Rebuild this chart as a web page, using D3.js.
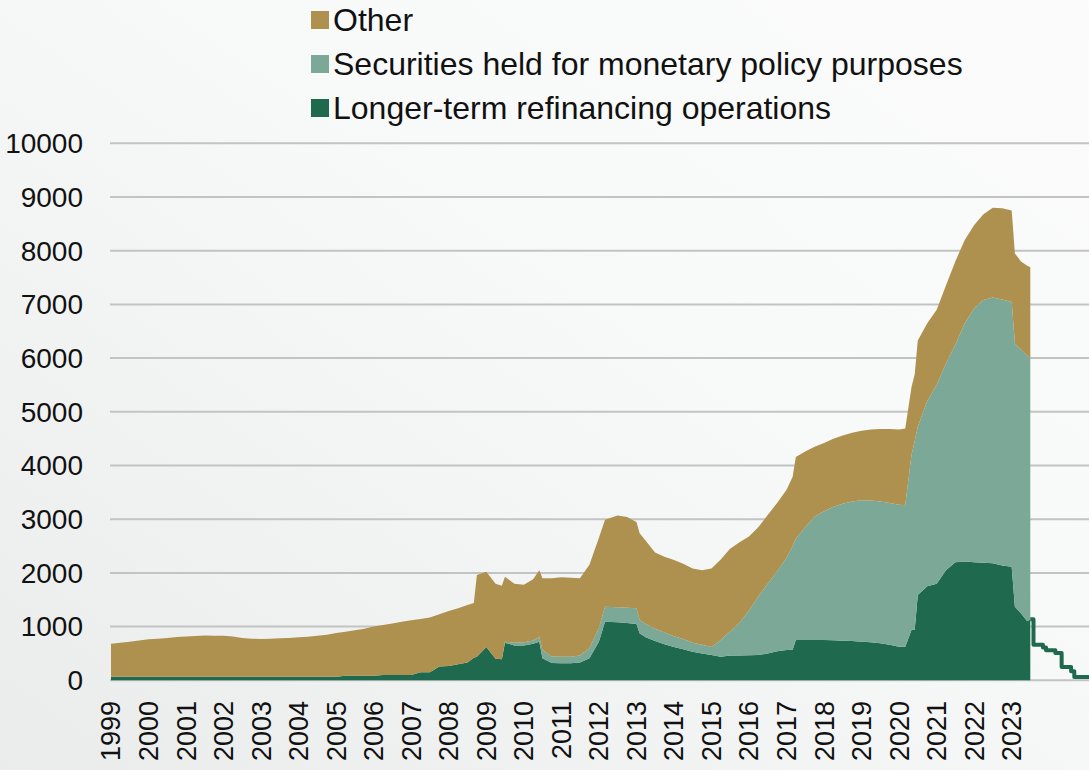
<!DOCTYPE html>
<html>
<head>
<meta charset="utf-8">
<script src="https://cdn.jsdelivr.net/npm/d3@7"></script>
<style>
  html, body { margin: 0; padding: 0; }
  body { width: 1089px; height: 770px; overflow: hidden; }
  text { font-family: "Liberation Sans", Arial, sans-serif; fill: #111; }
</style>
</head>
<body>
<div id="chart"></div>
<script>
// Eurosystem balance sheet, assets (EUR bn)
const dates = [
  "1999-01","1999-04","1999-07","1999-10","2000-01","2000-04","2000-07","2000-10",
  "2001-01","2001-04","2001-07","2001-10","2002-01","2002-04","2002-07","2002-10",
  "2003-01","2003-04","2003-07","2003-10","2004-01","2004-04","2004-07","2004-10",
  "2005-01","2005-04","2005-07","2005-10","2006-01","2006-04","2006-07","2006-10",
  "2007-01","2007-04","2007-07","2007-10","2008-01","2008-04","2008-07","2008-09",
  "2008-10","2009-01","2009-04","2009-06","2009-07","2009-10","2010-01","2010-04",
  "2010-06","2010-07","2010-10","2011-01","2011-04","2011-07","2011-10","2012-01",
  "2012-03","2012-07","2012-10","2013-01","2013-02","2013-04","2013-07","2013-10",
  "2014-01","2014-04","2014-07","2014-10","2015-01","2015-04","2015-07","2015-10",
  "2016-01","2016-04","2016-07","2016-10","2017-01","2017-03","2017-04","2017-07",
  "2017-10","2018-01","2018-04","2018-07","2018-10","2019-01","2019-04","2019-07",
  "2019-10","2020-01","2020-03","2020-05","2020-06","2020-07","2020-10","2021-01",
  "2021-04","2021-07","2021-10","2022-01","2022-04","2022-07","2022-10","2023-01",
  "2023-02","2023-04","2023-06","2023-07"
];

const ltro = [
  65,65,65,65,65,65,65,65, 65,65,65,65,65,65,65,65,
  65,65,65,65,65,65,65,65, 65,85,85,85,85,100,100,100,
  100,150,150,255,265,300,330,420, 440,620,400,390,700,650,650,680,
  718,409,320,316,316,330,409,718, 1091,1080,1065,1050,874,800,730,670,
  620,580,530,500,470,440,460,460, 465,471,500,540,564,570,750,750,
  750,750,745,738,730,720,710,690, 660,625,625,936,940,1590,1750,1800,
  2050,2200,2210,2200,2190,2180,2140,2114, 1370,1250,1100,1135
];

const securities = [
  0,0,0,0,0,0,0,0, 0,0,0,0,0,0,0,0,
  0,0,0,0,0,0,0,0, 0,0,0,0,0,0,0,0,
  0,0,0,0,0,0,0,0, 0,0,0,0,20,50,60,60,
  90,155,125,123,123,130,190,250, 280,280,285,290,250,250,230,220,
  200,190,170,160,150,310,450,610, 835,1090,1300,1490,1716,1930,1890,2100,
  2300,2400,2485,2552,2600,2635,2640,2640, 2640,2645,2637,3264,3510,3130,3450,3700,
  3850,4050,4440,4730,4890,4950,4950,4932, 4900,4910,4950,4855
];

const other = [
  615,635,655,675,700,710,725,740, 750,760,770,765,765,750,725,710,
  705,710,720,725,735,745,765,785, 815,820,845,875,915,930,960,990,
  1020,990,1020,975,1025,1040,1070,1020, 1520,1400,1400,1370,1210,1100,1070,1140,
  1242,1336,1455,1481,1471,1440,1551,1682, 1619,1710,1690,1610,1616,1550,1420,1410,
  1420,1400,1380,1390,1460,1500,1540,1500, 1380,1289,1280,1270,1270,1290,1520,1410,
  1300,1270,1270,1270,1280,1290,1320,1350, 1380,1400,1428,1260,1250,1610,1450,1400,
  1450,1550,1550,1550,1600,1670,1700,1704, 1680,1640,1670,1700
];

// projected LTRO run-off after the last balance sheet date
const tailDates = ["2023-07","2023-08","2023-11","2023-12","2024-03","2024-05","2024-08","2024-09","2025-02"];
const tailLtro = [1135, 660, 610, 560, 510, 250, 170, 60, 40];

const yTicks = [0, 1000, 2000, 3000, 4000, 5000, 6000, 7000, 8000, 9000, 10000];
const yearLabels = d3.range(1999, 2024).map(String);

const seriesNames = ["Other", "Securities held for monetary policy purposes", "Longer-term refinancing operations"];
const colors = { ltro: "#1f6a4f", securities: "#7ba897", other: "#ae914f" };

const parseMonth = d3.timeParse("%Y-%m");

const chartWidth = 1089;
const chartHeight = 770;

const $svg = d3.select("#chart")
  .append("svg")
  .attr("width", chartWidth)
  .attr("height", chartHeight);

// soft grey background
const grad = $svg.append("defs").append("linearGradient")
  .attr("id", "bg")
  .attr("x1", 0).attr("y1", 1).attr("x2", 1).attr("y2", 0);
grad.append("stop").attr("offset", "0%").attr("stop-color", "#eaecec");
grad.append("stop").attr("offset", "60%").attr("stop-color", "#f8f9f9");
grad.append("stop").attr("offset", "100%").attr("stop-color", "#fbfbfb");
$svg.append("rect")
  .attr("width", chartWidth)
  .attr("height", chartHeight)
  .attr("fill", "url(#bg)");

const xScale = d3.scaleTime()
  .domain([parseMonth("1999-01"), parseMonth("2025-02")])
  .range([111, 1090]);

const yScale = d3.scaleLinear()
  .domain([0, 10000])
  .range([680.3, 143.3]);

// gridlines
$svg.append("g")
  .selectAll("line")
  .data(yTicks)
  .join("line")
  .attr("x1", 110)
  .attr("x2", chartWidth)
  .attr("y1", d => yScale(d))
  .attr("y2", d => yScale(d))
  .attr("stroke", "#c3c3c3")
  .attr("stroke-width", 2);

// y axis labels
$svg.append("g")
  .selectAll("text")
  .data(yTicks)
  .join("text")
  .attr("x", 83)
  .attr("y", d => yScale(d))
  .attr("dy", "0.35em")
  .attr("text-anchor", "end")
  .style("font-size", "28px")
  .text(d => d);

// stacked areas
const table = dates.map((d, i) => ({
  date: parseMonth(d),
  ltro: ltro[i],
  securities: securities[i],
  other: other[i]
}));

const stack = d3.stack().keys(["ltro", "securities", "other"]);
const layers = stack(table);

const area = d3.area()
  .x(d => xScale(d.data.date))
  .y0(d => yScale(d[0]))
  .y1(d => yScale(d[1]));

$svg.append("g")
  .selectAll("path")
  .data(layers)
  .join("path")
  .attr("fill", d => colors[d.key])
  .attr("d", area);

// LTRO run-off line
const tail = tailDates.map((d, i) => ({ date: parseMonth(d), value: tailLtro[i] }));
$svg.append("path")
  .datum(tail)
  .attr("fill", "none")
  .attr("stroke", colors.ltro)
  .attr("stroke-width", 4)
  .attr("stroke-linejoin", "round")
  .attr("d", d3.line()
    .x(d => xScale(d.date))
    .y(d => yScale(d.value))
    .curve(d3.curveStepAfter));

// x axis labels, rotated
$svg.append("g")
  .selectAll("text")
  .data(yearLabels)
  .join("text")
  .attr("transform", d => `translate(${xScale(parseMonth(d + "-01"))},701) rotate(-90)`)
  .attr("dy", "0.35em")
  .attr("text-anchor", "end")
  .style("font-size", "27px")
  .text(d => d);

// legend
const legendKeys = ["other", "securities", "ltro"];
const $legend = $svg.append("g")
  .selectAll("g")
  .data(seriesNames)
  .join("g")
  .attr("transform", (d, i) => `translate(311,${20 + i * 44})`);

$legend.append("rect")
  .attr("x", 0)
  .attr("y", -9)
  .attr("width", 18)
  .attr("height", 18)
  .attr("fill", (d, i) => colors[legendKeys[i]]);

$legend.append("text")
  .attr("x", 22)
  .attr("dy", "0.35em")
  .style("font-size", "32px")
  .text(d => d);
</script>
</body>
</html>
